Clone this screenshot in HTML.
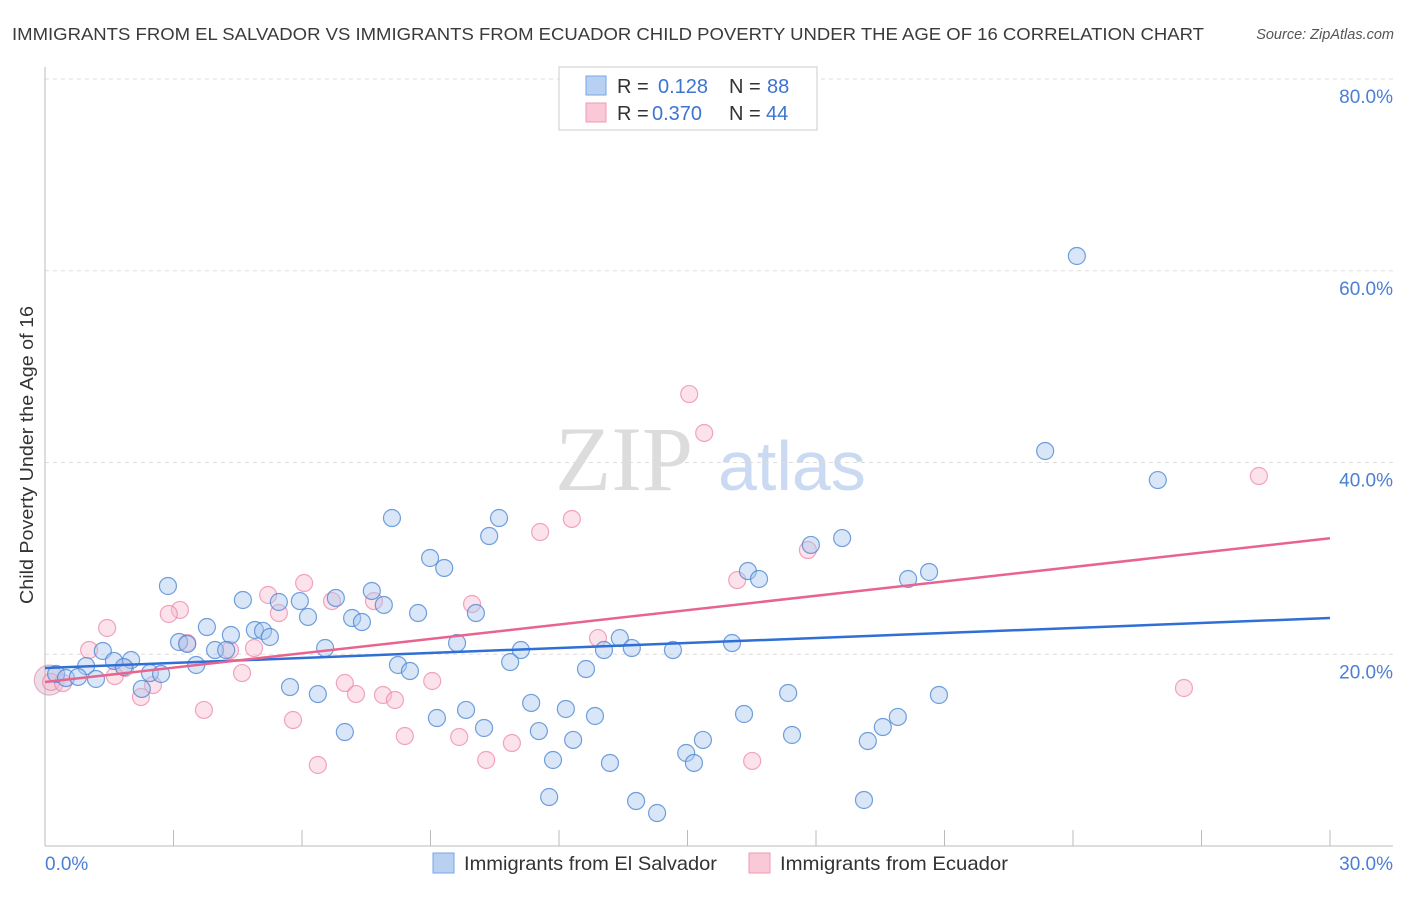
<!DOCTYPE html>
<html><head><meta charset="utf-8"><style>
body{margin:0;background:#fff;font-family:"Liberation Sans",sans-serif;}
svg text{font-family:"Liberation Sans",sans-serif;}
</style></head><body>
<svg id="chart" width="1406" height="892" xmlns="http://www.w3.org/2000/svg">
<text x="12" y="40" font-size="17.5" fill="#3a3a3a" textLength="1192" lengthAdjust="spacingAndGlyphs">IMMIGRANTS FROM EL SALVADOR VS IMMIGRANTS FROM ECUADOR CHILD POVERTY UNDER THE AGE OF 16 CORRELATION CHART</text>
<text x="1394" y="39" font-size="14.5" fill="#555" text-anchor="end" font-style="italic">Source: ZipAtlas.com</text>
<g>
<text x="555" y="490" font-size="92" fill="#dcdcdc" font-family="Liberation Serif" style="font-family:'Liberation Serif',serif">ZIP</text>
<text x="718" y="490" font-size="70" fill="#c9daf2">atlas</text>
</g>
<g id="grid"></g>
<g id="axes"></g>
<g id="marks"></g>
<g id="trends"></g>
<g>
<rect x="559" y="67" width="258" height="63" fill="#fff" stroke="#ccc"/>
<rect x="586" y="76" width="20" height="19" fill="#b8d1f3" stroke="#7aa5e0"/>
<text x="617" y="93" font-size="20" fill="#333">R =</text>
<text x="658" y="93" font-size="20" fill="#3d74d0">0.128</text>
<text x="729" y="93" font-size="20" fill="#333">N =</text>
<text x="767" y="93" font-size="20" fill="#3d74d0">88</text>
<rect x="586" y="103" width="20" height="19" fill="#f9c9d7" stroke="#ee9ab3"/>
<text x="617" y="120" font-size="20" fill="#333">R =</text>
<text x="652" y="120" font-size="20" fill="#3d74d0">0.370</text>
<text x="729" y="120" font-size="20" fill="#333">N =</text>
<text x="766" y="120" font-size="20" fill="#3d74d0">44</text>
</g>
<g>
<rect x="433" y="853" width="21" height="20" fill="#b8d1f3" stroke="#7aa5e0"/>
<text x="464" y="870" font-size="19.5" fill="#333" textLength="253" lengthAdjust="spacingAndGlyphs">Immigrants from El Salvador</text>
<rect x="749" y="853" width="21" height="20" fill="#f9c9d7" stroke="#ee9ab3"/>
<text x="780" y="870" font-size="19.5" fill="#333" textLength="228" lengthAdjust="spacingAndGlyphs">Immigrants from Ecuador</text>
</g>
<text transform="translate(33,455) rotate(-90)" font-size="18" fill="#333" text-anchor="middle" textLength="298" lengthAdjust="spacingAndGlyphs">Child Poverty Under the Age of 16</text>
</svg>
<script>
const yTicks=[20,40,60,80];
const yTickLabels=["20.0%","40.0%","60.0%","80.0%"];
const xTickLabels=["0.0%","30.0%"];
const blueX=[24.09,23.35,25.98,8.10,10.60,10.37,18.61,17.88,8.99,9.32,16.41,16.67,20.64,20.15,2.87,7.63,4.62,5.95,6.79,7.91,5.46,6.14,8.71,10.06,7.17,7.40,3.78,4.90,4.34,5.09,5.25,3.13,3.32,9.62,13.42,16.04,1.35,3.97,4.23,6.54,11.11,13.05,13.70,14.66,2.01,1.61,0.96,1.84,3.53,10.86,8.24,8.52,12.63,0.26,0.49,2.45,2.71,1.19,0.77,5.72,2.26,6.37,11.35,12.16,9.83,12.84,9.15,16.32,17.35,20.87,19.91,19.56,10.25,11.53,7.00,12.33,15.36,17.44,19.21,14.97,15.15,11.86,13.19,11.77,13.80,14.29,19.12];
const blueY=[61.54,41.20,38.17,34.21,34.21,32.33,32.12,31.40,30.04,29.00,28.68,27.85,28.58,27.85,27.12,26.60,25.66,25.55,25.87,25.14,25.45,23.89,24.30,24.30,23.78,23.36,22.84,22.53,22.01,22.43,21.80,21.28,21.07,21.17,21.69,21.17,20.34,20.44,20.44,20.65,20.44,20.44,20.65,20.44,19.40,19.30,18.77,18.67,18.88,19.19,18.88,18.25,18.46,17.94,17.52,18.04,17.94,17.42,17.63,16.58,16.38,15.85,14.92,14.29,14.19,13.56,13.35,13.77,15.96,15.75,13.46,12.41,12.31,11.99,11.89,11.06,11.06,11.58,10.95,9.70,8.66,8.97,8.66,5.11,4.69,3.44,4.80];
const pinkX=[15.04,15.39,28.34,12.30,11.56,17.81,16.16,6.05,5.21,6.70,7.68,9.97,5.46,3.15,2.89,1.45,3.32,12.91,4.32,4.88,1.03,1.87,1.63,4.60,0.14,0.42,7.00,9.04,2.52,7.26,7.89,8.17,2.24,3.71,5.79,26.59,8.40,9.67,10.90,10.30,16.51,6.37];
const pinkY=[47.14,43.08,38.59,34.11,32.75,30.87,27.74,27.43,26.18,25.55,25.55,25.24,24.30,24.62,24.20,22.74,21.17,21.69,20.44,20.65,20.44,18.57,17.73,18.04,17.11,17.00,17.00,17.21,16.79,15.85,15.75,15.23,15.54,14.19,13.14,16.48,11.47,11.37,10.74,8.97,8.87,8.45];
const bigX=[0.1];
const bigY=[17.3];
const blueTrendX=[0,30];
const blueTrendY=[18.57,23.78];
const pinkTrendX=[0,30];
const pinkTrendY=[17.1,32.1];

const NS="http://www.w3.org/2000/svg";
const X0=45,X1=1330,Y0=846,YPER=9.5875;
function sx(v){return X0+(X1-X0)*v/30;}
function sy(v){return Y0-v*YPER;}
function mk(tag,attrs,parent){const e=document.createElementNS(NS,tag);for(const k in attrs)e.setAttribute(k,attrs[k]);parent.appendChild(e);return e;}
const grid=document.getElementById('grid'),axes=document.getElementById('axes'),marks=document.getElementById('marks'),trends=document.getElementById('trends');
yTicks.forEach((t,i)=>{
  const l=mk('line',{x1:X0,x2:1393,y1:sy(t),y2:sy(t),stroke:'#ddd','stroke-dasharray':'4,4'},grid);
  
  
  const tx=mk('text',{x:1393,y:sy(t)+24,'font-size':19,fill:'#4a7fd4','text-anchor':'end'},axes);
  tx.textContent=yTickLabels[i];
  
  
});
const ax=mk('line',{x1:X0,x2:1393,y1:Y0,y2:Y0,stroke:'#bbb'},axes);


const ay=mk('line',{x1:X0,x2:X0,y1:67,y2:Y0,stroke:'#bbb'},axes);


for(let i=1;i<=10;i++){
  const t=mk('line',{x1:sx(i*3),x2:sx(i*3),y1:Y0-16,y2:Y0,stroke:'#bbb'},axes);
  
  
}
const xl0=mk('text',{x:45,y:870,'font-size':19,fill:'#4a7fd4'},axes);xl0.textContent=xTickLabels[0];


const xl1=mk('text',{x:1393,y:870,'font-size':19,fill:'#4a7fd4','text-anchor':'end'},axes);xl1.textContent=xTickLabels[1];


bigX.forEach((v,i)=>{
  const c=mk('circle',{cx:sx(v),cy:sy(bigY[i]),r:15,fill:'rgba(200,160,190,0.35)',stroke:'rgba(220,130,160,0.6)','stroke-width':1.2},marks);
  
  
});
pinkX.forEach((v,i)=>{
  const c=mk('circle',{cx:sx(v),cy:sy(pinkY[i]),r:8.5,fill:'rgba(248,190,208,0.45)',stroke:'rgba(236,130,162,0.7)','stroke-width':1.2},marks);
  
  
});
blueX.forEach((v,i)=>{
  const c=mk('circle',{cx:sx(v),cy:sy(blueY[i]),r:8.5,fill:'rgba(168,200,240,0.45)',stroke:'rgba(70,130,210,0.75)','stroke-width':1.2},marks);
  
  
});
const bt=mk('line',{x1:sx(blueTrendX[0]),y1:sy(blueTrendY[0]),x2:sx(blueTrendX[1]),y2:sy(blueTrendY[1]),stroke:'#2f6fd6','stroke-width':2.5},trends);


const pt=mk('line',{x1:sx(pinkTrendX[0]),y1:sy(pinkTrendY[0]),x2:sx(pinkTrendX[1]),y2:sy(pinkTrendY[1]),stroke:'#e8648f','stroke-width':2.5},trends);


</script>
</body></html>
